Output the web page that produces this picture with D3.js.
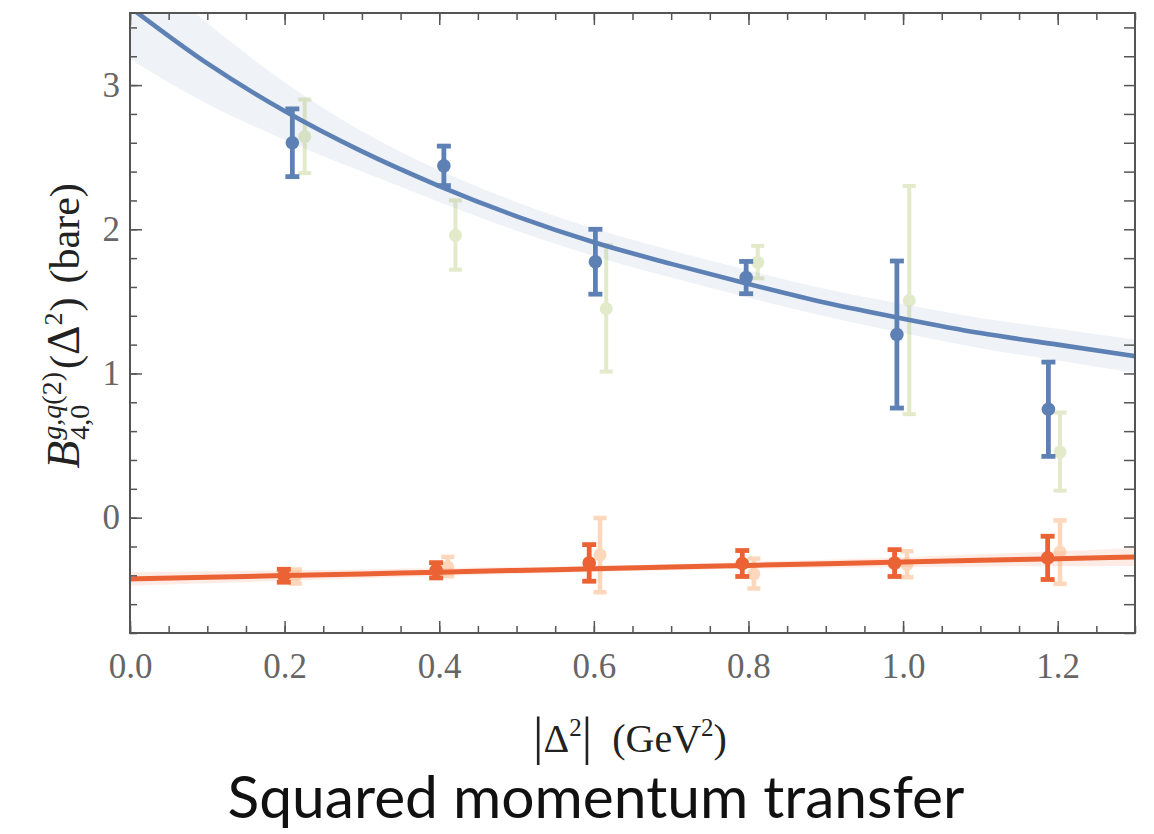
<!DOCTYPE html>
<html><head><meta charset="utf-8">
<script src="https://cdn.jsdelivr.net/npm/d3@7"></script>
<style>body{margin:0;background:#fff} svg{display:block}</style>
</head><body>
<svg id="c" width="1154" height="834"></svg>
<script>
// ---------- data ----------
const xTickVals = [0, 0.2, 0.4, 0.6, 0.8, 1.0, 1.2];
const yTickVals = [0, 1, 2, 3];

// dark blue points (main) with symmetric errors
const blueX   = [0.210, 0.406, 0.602, 0.797, 0.992, 1.188];
const blueY   = [2.600, 2.440, 1.775, 1.665, 1.270, 0.752];
const blueErr = [0.235, 0.137, 0.225, 0.112, 0.510, 0.327];

// faint green points
const greenX  = [0.226, 0.421, 0.616, 0.812, 1.008, 1.203];
const greenY  = [2.643, 1.958, 1.449, 1.770, 1.506, 0.455];
const greenLo = [2.390, 1.720, 1.013, 1.660, 0.718, 0.187];
const greenHi = [2.900, 2.200, 1.890, 1.885, 2.300, 0.729];

// dark orange points (main)
const orangeX   = [0.199, 0.396, 0.594, 0.792, 0.989, 1.187];
const orangeY   = [-0.403, -0.365, -0.314, -0.318, -0.315, -0.279];
const orangeErr = [0.045, 0.053, 0.127, 0.090, 0.093, 0.150];

// faint orange points
const peachX  = [0.214, 0.411, 0.608, 0.807, 1.005, 1.203];
const peachY  = [-0.405, -0.341, -0.258, -0.390, -0.325, -0.238];
const peachLo = [-0.457, -0.406, -0.517, -0.491, -0.413, -0.459];
const peachHi = [-0.360, -0.272, -0.002, -0.284, -0.233, -0.019];

// fit curves
const tGrid   = [0, 0.1, 0.2, 0.3, 0.4, 0.5, 0.6, 0.7, 0.8, 0.9, 1.0, 1.1, 1.2, 1.3];
const blueFit = [3.54, 3.15, 2.82, 2.54, 2.30, 2.09, 1.91, 1.76, 1.62, 1.49, 1.38, 1.28, 1.20, 1.12];
const blueHi  = [3.90, 3.43, 3.02, 2.68, 2.41, 2.19, 2.005, 1.855, 1.715, 1.585, 1.48, 1.385, 1.31, 1.235];
const blueLo  = [3.18, 2.87, 2.62, 2.40, 2.19, 1.99, 1.815, 1.665, 1.525, 1.395, 1.28, 1.175, 1.09, 1.005];
const orangeFit = [-0.425, -0.413, -0.402, -0.390, -0.378, -0.366, -0.355, -0.343, -0.331, -0.320, -0.308, -0.296, -0.285, -0.273];
const orangeHi  = [-0.377, -0.371, -0.366, -0.359, -0.351, -0.342, -0.333, -0.321, -0.307, -0.292, -0.274, -0.254, -0.233, -0.210];
const orangeLo  = [-0.473, -0.455, -0.438, -0.421, -0.405, -0.390, -0.377, -0.365, -0.355, -0.348, -0.342, -0.338, -0.337, -0.336];

// ---------- layout ----------
const M = {l:130, r:1135, t:13, b:633};
const x = d3.scaleLinear().domain([0, 1.3]).range([M.l, M.r]);
const y = d3.scaleLinear().domain([-0.8, 3.5]).range([M.b, M.t]);
const svg = d3.select("#c");
const BLUE = "#5E81B5", GREEN = "#8FB032", ORANGE = "#EB6235", PEACH = "#F9A25E";

svg.append("defs").append("clipPath").attr("id","clip")
  .append("rect").attr("x",M.l).attr("y",M.t).attr("width",M.r-M.l).attr("height",M.b-M.t);
const plot = svg.append("g").attr("clip-path","url(#clip)");

const area = d3.area().x(d=>x(d.t)).y0(d=>y(d.lo)).y1(d=>y(d.hi)).curve(d3.curveMonotoneX);
const line = d3.line().x(d=>x(d.t)).y(d=>y(d.v)).curve(d3.curveMonotoneX);

plot.append("path").datum(tGrid.map((t,i)=>({t, lo:blueLo[i], hi:blueHi[i]})))
  .attr("d", area).attr("fill", BLUE).attr("fill-opacity", 0.1);
plot.append("path").datum(tGrid.map((t,i)=>({t, lo:orangeLo[i], hi:orangeHi[i]})))
  .attr("d", area).attr("fill", ORANGE).attr("fill-opacity", 0.12);

function errbars(g, xs, ys, lo, hi, color, op, sw, capW, r) {
  const gg = g.append("g").attr("opacity", op);
  const d = xs.map((xv,i)=>({x:xv, y:ys[i], lo:lo[i], hi:hi[i]}));
  gg.selectAll(".bar").data(d).join("line")
    .attr("x1",p=>x(p.x)).attr("x2",p=>x(p.x)).attr("y1",p=>y(p.lo)).attr("y2",p=>y(p.hi))
    .attr("stroke",color).attr("stroke-width",sw);
  ["lo","hi"].forEach(k=>{
    gg.selectAll(".cap"+k).data(d).join("line")
      .attr("x1",p=>x(p.x)-capW/2).attr("x2",p=>x(p.x)+capW/2)
      .attr("y1",p=>y(p[k])).attr("y2",p=>y(p[k]))
      .attr("stroke",color).attr("stroke-width",sw);
  });
  gg.selectAll("circle").data(d).join("circle")
    .attr("cx",p=>x(p.x)).attr("cy",p=>y(p.y)).attr("r",r).attr("fill",color);
}

// faint points first
errbars(plot, greenX, greenY, greenLo, greenHi, GREEN, 0.25, 4, 13, 6.5);
errbars(plot, peachX, peachY, peachLo, peachHi, PEACH, 0.42, 4.5, 13, 6.5);

// fit lines
plot.append("path").datum(tGrid.map((t,i)=>({t, v:blueFit[i]})))
  .attr("d", line).attr("fill","none").attr("stroke",BLUE).attr("stroke-width",4.6);
plot.append("path").datum(tGrid.map((t,i)=>({t, v:orangeFit[i]})))
  .attr("d", line).attr("fill","none").attr("stroke",ORANGE).attr("stroke-width",5);

// main points
errbars(plot, blueX, blueY, blueX.map((_,i)=>blueY[i]-blueErr[i]), blueX.map((_,i)=>blueY[i]+blueErr[i]), BLUE, 1, 4.8, 14, 6.8);
errbars(plot, orangeX, orangeY, orangeX.map((_,i)=>orangeY[i]-orangeErr[i]), orangeX.map((_,i)=>orangeY[i]+orangeErr[i]), ORANGE, 1, 4.8, 14, 6.8);

// ---------- axes ----------
const AX = "#555";
const xMinor = d3.range(0, 1.3001, 0.05);
const yMinor = d3.range(-0.8, 3.5001, 0.2);
function styleAxis(g){ g.select(".domain").remove(); g.selectAll(".tick line").attr("stroke",AX).attr("stroke-width",1.5); }

svg.append("g").attr("transform",`translate(0,${M.b})`)
  .call(d3.axisBottom(x).tickValues(xMinor).tickSize(-7).tickFormat("")).call(styleAxis);
svg.append("g").attr("transform",`translate(0,${M.b})`)
  .call(d3.axisBottom(x).tickValues(xTickVals).tickSize(-12).tickPadding(20).tickFormat(d3.format(".1f"))).call(styleAxis);
svg.append("g").attr("transform",`translate(0,${M.t})`)
  .call(d3.axisTop(x).tickValues(xMinor).tickSize(-7).tickFormat("")).call(styleAxis);
svg.append("g").attr("transform",`translate(0,${M.t})`)
  .call(d3.axisTop(x).tickValues(xTickVals).tickSize(-12).tickFormat("")).call(styleAxis);

svg.append("g").attr("transform",`translate(${M.l},0)`)
  .call(d3.axisLeft(y).tickValues(yMinor).tickSize(-7).tickFormat("")).call(styleAxis);
svg.append("g").attr("transform",`translate(${M.l},0)`)
  .call(d3.axisLeft(y).tickValues(yTickVals).tickSize(-12).tickPadding(10).tickFormat(d3.format("d"))).call(styleAxis);
svg.append("g").attr("transform",`translate(${M.r},0)`)
  .call(d3.axisRight(y).tickValues(yMinor).tickSize(-11).tickFormat("")).call(styleAxis);

svg.selectAll(".tick text").attr("font-family","'Liberation Serif','DejaVu Serif',serif")
  .attr("font-size",35).attr("fill","#666");

// frame
svg.append("rect").attr("x",M.l).attr("y",M.t).attr("width",M.r-M.l).attr("height",M.b-M.t)
  .attr("fill","none").attr("stroke",AX).attr("stroke-width",2);

// ---------- x label ----------
const SERIF = "'Liberation Serif','DejaVu Serif',serif";
const xl = svg.append("text").attr("x", 630).attr("y", 752).attr("text-anchor","middle")
  .attr("font-family",SERIF).attr("font-size",40).attr("fill","#222");
xl.append("tspan").attr("font-size",52).attr("dy",2).text("|");
xl.append("tspan").attr("dy",-2).text("Δ");
xl.append("tspan").attr("font-size",25).attr("dy",-16).text("2");
xl.append("tspan").attr("font-size",52).attr("dy",18).text("|");
xl.append("tspan").attr("dy",-2).text("\u2002(GeV");
xl.append("tspan").attr("font-size",25).attr("dy",-16).text("2");
xl.append("tspan").attr("dy",16).text(")");

// ---------- y label ----------
const yg = svg.append("g");
let cx = 0;
function put(txt, opts){
  const t = yg.append("text").attr("x",cx).attr("y",opts.dy||0)
    .attr("font-family",SERIF).attr("font-size",opts.fs||42).attr("fill","#222")
    .attr("font-style",opts.it?"italic":"normal").text(txt);
  return t.node().getComputedTextLength();
}
let w = put("B",{it:true, fs:46}); cx += w + 1;
const sx = cx;
let wsup = put("g,q",{fs:28, dy:-18, it:true}); cx += wsup;
wsup += put("(2)",{fs:28, dy:-18});
cx = sx;
const wsub = put("4,0",{fs:28, dy:10});
cx = sx + Math.max(wsup, wsub) + 3;
w = put("(",{}); cx += w;
w = put("Δ",{fs:46}); cx += w;
w = put("2",{fs:26, dy:-17}); cx += w + 1;
w = put(")",{}); cx += w + 14;
w = put("(bare)",{}); cx += w;
yg.attr("transform", `translate(79, ${326 + cx/2}) rotate(-90)`);

// ---------- title ----------
const title = svg.append("text").attr("x", 596).attr("y", 818).attr("text-anchor","middle")
  .attr("font-family","Lato,'Open Sans',sans-serif").attr("font-size",60).attr("fill","#111")
  .text("Squared momentum transfer");
const tl = title.node().getComputedTextLength();
title.attr("font-size", 60 * 737 / tl);
</script>
</body></html>
